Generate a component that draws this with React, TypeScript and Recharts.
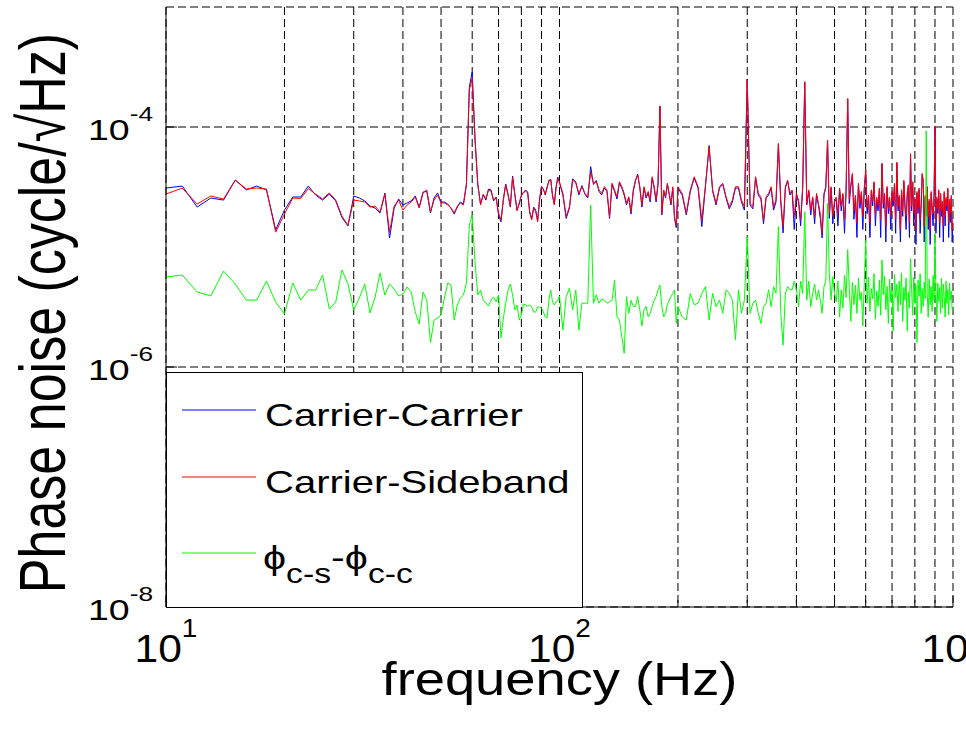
import React from "react";
import { CartesianGrid, Legend, Line, LineChart, XAxis, YAxis } from "recharts";

// frequency (Hz)
const FREQ = [
  10, 11, 12, 13, 14, 15, 16, 17, 18, 19, 20, 21, 22, 23, 24, 25, 26, 27, 28, 29,
  30, 31, 32, 33, 34, 35, 36, 37, 38, 39, 40, 41, 42, 43, 44, 45, 46, 47, 48, 49,
  50, 51, 52, 53, 54, 55, 56, 57, 58, 59, 60, 61, 62, 63, 64, 65, 66, 67, 68, 69,
  70, 71, 72, 73, 74, 75, 76, 77, 78, 79, 80, 81, 82, 83, 84, 85, 86, 87, 88, 89,
  90, 91, 92, 93, 94, 95, 96, 97, 98, 99, 100,
  102, 104, 106, 108, 110, 112, 114, 116, 118, 120, 122, 124, 126, 128, 130, 132, 134, 136, 138, 140,
  142, 144, 146, 148, 150, 152, 154, 156, 158, 160, 162, 164, 166, 168, 170, 172, 174, 176, 178, 180,
  182, 184, 186, 188, 190, 192, 194, 196, 198, 200,
  205, 210, 215, 220, 225, 230, 235, 240, 245, 250, 255, 260, 265, 270, 275, 280, 285, 290, 295, 300,
  305, 310, 315, 320, 325, 330, 335, 340, 345, 350, 355, 360, 365, 370, 375, 380, 385, 390, 395, 400,
  405, 410, 415, 420, 425, 430, 435, 440, 445, 450, 455, 460, 465, 470, 475, 480, 485, 490, 495, 500,
  505, 510, 515, 520, 525, 530, 535, 540, 545, 550, 555, 560, 565, 570, 575, 580, 585, 590, 595, 600,
  605, 610, 615, 620, 625, 630, 635, 640, 645, 650, 655, 660, 665, 670, 675, 680, 685, 690, 695, 700,
  705, 710, 715, 720, 725, 730, 735, 740, 745, 750, 755, 760, 765, 770, 775, 780, 785, 790, 795, 800,
  805, 810, 815, 820, 825, 830, 835, 840, 845, 850, 855, 860, 865, 870, 875, 880, 885, 890, 895, 900,
  905, 910, 915, 920, 925, 930, 935, 940, 945, 950, 955, 960, 965, 970, 975, 980, 985, 990, 995, 1000,
];

// phase noise, in micro-cycle/sqrt(Hz)
const CARRIER_CARRIER = [
  31.0, 32.2, 21.5, 25.6, 24.6, 36.1, 29.9, 32.2, 29.9, 13.9,
  20.3, 26.1, 26.1, 32.2, 27.1, 24.6, 27.6, 24.2, 17.6, 15.0,
  26.6, 25.6, 24.2, 21.9, 21.1, 19.2, 28.2, 11.9, 21.1, 25.1,
  22.4, 23.3, 24.2, 26.6, 21.5, 28.7, 29.1, 19.2, 25.6, 28.2,
  23.7, 23.7, 22.8, 21.1, 18.8, 21.5, 23.7, 22.8, 33.5, 215,
  287, 80.0, 33.5, 22.8, 27.1, 24.6, 30.4, 29.9, 24.2, 26.1,
  18.5, 16.2, 25.1, 33.5, 27.6, 21.5, 39.0, 27.6, 20.3, 22.8,
  27.1, 28.2, 29.9, 28.7, 19.6, 17.3, 21.5, 20.3, 16.8, 25.1,
  31.6, 30.4, 27.1, 31.6, 35.5, 36.8, 26.6, 22.8, 31.6, 38.3, 34.2,
  27.1, 17.3, 21.1, 37.0, 34.8, 27.1, 32.5, 27.6, 25.6, 46.7,
  33.2, 35.8, 29.1, 27.1, 31.0, 29.1, 17.3, 33.2, 29.1, 25.1,
  34.2, 31.0, 27.1, 22.4, 25.6, 18.8, 29.1, 35.5, 40.6, 31.0,
  21.5, 31.0, 25.6, 28.2, 23.7, 37.5, 31.0, 23.7, 33.2, 148,
  18.5, 29.1, 25.6, 33.2, 27.6, 22.4, 31.0, 17.3, 14.5, 31.0,
  27.1, 18.5, 29.1, 37.5, 31.0, 14.8, 32.2, 70.0, 29.1, 22.4,
  31.0, 33.2, 25.6, 20.8, 23.7, 31.0, 31.0, 23.7, 20.3, 251,
  22.4, 20.8, 37.5, 27.1, 25.1, 15.6, 25.6, 27.1, 31.0, 20.3,
  23.7, 71.0, 23.7, 13.1, 31.0, 35.5, 27.1, 29.1, 14.0, 27.1,
  23.7, 15.0, 31.0, 236, 22.4, 29.1, 18.5, 25.6, 15.6, 27.1,
  22.4, 17.3, 11.9, 27.1, 31.0, 76.0, 17.3, 31.0, 15.6, 23.7,
  25, 15, 30, 20, 27, 13, 29, 170, 23, 32,
  40, 17, 26, 12, 33, 21, 28, 14, 30, 43,
  19, 26, 12, 29, 22, 34, 15, 25, 20, 30,
  12, 49, 21, 27, 11, 31, 19, 25, 14, 28,
  22, 33, 13, 50, 20, 26, 11, 29, 18, 35,
  21, 14, 27, 32, 12, 59, 20, 34, 15, 25,
  10.5, 28, 19, 30, 13, 22, 40, 35, 11, 26,
  18, 31, 14, 24, 10.5, 28, 20, 15, 26, 100,
  13, 25, 19, 29, 12, 27, 18, 23, 11, 28,
  15, 25, 20, 30, 12, 24, 16, 26, 11, 15,
];

const CARRIER_SIDEBAND = [
  27.6, 31.0, 22.8, 26.6, 25.1, 36.1, 30.4, 31.0, 30.4, 13.3,
  18.8, 25.6, 25.4, 30.7, 27.6, 25.1, 28.2, 24.6, 18.1, 15.2,
  24.6, 24.2, 23.7, 21.5, 21.9, 19.6, 27.6, 13.3, 21.9, 24.6,
  20.3, 22.4, 23.7, 26.1, 21.1, 28.2, 29.9, 19.6, 24.6, 27.1,
  23.3, 23.3, 22.4, 21.1, 19.2, 21.9, 23.3, 22.4, 32.9, 203,
  256, 77.9, 32.9, 22.4, 27.6, 25.1, 29.9, 29.1, 24.6, 25.6,
  19.2, 16.8, 24.6, 32.9, 27.1, 21.9, 38.3, 27.1, 20.0, 23.3,
  26.6, 28.7, 29.1, 28.2, 19.2, 16.8, 21.1, 19.6, 16.2, 24.6,
  32.2, 29.9, 27.6, 31.0, 36.1, 36.1, 27.1, 22.4, 31.0, 37.5, 34.8,
  28, 17.9, 21.7, 36.2, 34, 28, 31.8, 28, 26.2, 42,
  34, 35, 29.9, 28, 31.8, 29.9, 17.9, 34, 29.9, 26.2,
  35, 31.8, 28, 23.1, 26.2, 19.7, 29.9, 36.2, 39.8, 31.8,
  22.4, 31.8, 26.2, 29, 24.6, 38.5, 31.8, 24.6, 34, 150,
  19.1, 29.9, 26.2, 34, 28, 23.1, 31.8, 17.9, 15.2, 31.8,
  28, 19.1, 29.9, 38.5, 31.8, 16.8, 33, 67.8, 29.9, 23.1,
  31.8, 34, 26.2, 21.7, 24.6, 31.8, 31.8, 24.6, 21.7, 246,
  23.1, 21.7, 38.5, 28, 26.2, 16.8, 26.2, 28, 31.8, 21.7,
  24.6, 73, 24.6, 14.8, 31.8, 36, 28, 29.9, 17.9, 28,
  24.6, 16.8, 31.8, 239, 23.1, 29.9, 20.3, 26.2, 17.9, 28,
  23.1, 19, 13.1, 28, 31.8, 78, 19, 31.8, 17.9, 24.6,
  26, 19, 31, 22, 28, 17, 30, 173, 25, 33,
  41, 20, 27, 16, 34, 23, 29, 18, 31, 44,
  21, 27, 16, 30, 24, 35, 19, 26, 22, 31,
  17, 50, 23, 28, 15, 32, 21, 26, 18, 29,
  24, 34, 17, 51, 22, 27, 14, 30, 20, 36,
  23, 18, 28, 33, 16, 60, 22, 35, 19, 26,
  14, 29, 21, 31, 17, 23, 41, 36, 15, 27,
  20, 32, 18, 25, 14, 29, 22, 19, 27, 102,
  17, 26, 21, 30, 16, 28, 20, 24, 15, 29,
  18, 26, 22, 31, 16, 25, 19, 27, 14, 17,
];

const PHI_DIFF = [
  5.62, 5.84, 4.22, 3.91, 6.31, 4.92, 3.61, 3.61, 5.21, 3.48,
  2.77, 5.01, 3.61, 4.38, 4.38, 5.84, 3.04, 3.48, 6.43, 4.92,
  2.99, 3.76, 4.92, 2.82, 3.83, 6.07, 3.98, 4.92, 4.47, 3.91,
  4.05, 4.64, 4.22, 2.87, 2.28, 4.22, 3.61, 1.6, 2.46, 2.56,
  2.71, 3.76, 5.01, 4.82, 2.46, 3.29, 3.76, 3.98, 5.01, 15.2,
  18.5, 7.5, 3.98, 4.38, 3.61, 3.41, 3.22, 3.61, 3.83, 3.48,
  3.98, 1.75, 2.56, 3.41, 4.38, 4.92, 3.98, 2.99, 3.29, 2.46,
  2.71, 3.35, 3.29, 3.22, 3.29, 3.16, 2.87, 2.87, 3.16, 3.16,
  3.1, 2.87, 2.61, 2.56, 3.61, 4.38, 3.48, 3.29, 3.48, 3.61, 3.91,
  2.03, 3.86, 4.53, 2.99, 4.38, 2.03, 3.4, 3.4, 3.4, 22.4,
  3.4, 4.0, 3.4, 3.7, 3.6, 3.4, 3.5, 3.6, 5.3, 2.62,
  2.46, 1.79, 1.3, 3.86, 2.8, 3.6, 3.2, 3.2, 3.86, 2.99,
  2.2, 2.99, 3.2, 2.62, 2.8, 3.2, 3.6, 3.86, 4.38, 4.8,
  3.2, 2.62, 2.8, 3.3, 3.6, 3.86, 4.1, 4.38, 2.31, 3.2,
  2.62, 2.46, 4.1, 3.3, 3.4, 4.11, 4.67, 2.46, 4.11, 3.18,
  3.61, 2.8, 4.4, 4.11, 3.61, 1.68, 4.4, 2.8, 3.61, 12.2,
  2.8, 3.4, 3.61, 2.8, 2.3, 3.18, 3.4, 4.4, 3.18, 4.67,
  4.11, 14.8, 2.8, 1.52, 4.11, 4.67, 4.4, 4.4, 5.2, 4.4,
  3.18, 5.2, 4.11, 19.7, 3.61, 5.2, 3.18, 4.11, 4.9, 3.61,
  4.4, 3.61, 2.8, 4.67, 5.2, 23, 6.04, 3.61, 5.66, 4.11,
  3.5, 5.2, 2.6, 4.4, 3.1, 5.8, 3.8, 9.5, 4.6, 2.4,
  5.1, 3.3, 4.8, 2.8, 5.5, 3.6, 4.2, 2.2, 5.0, 11.4,
  3.4, 5.6, 2.9, 4.5, 3.7, 6.0, 2.5, 4.3, 3.2, 5.3,
  2.7, 7.8, 4.0, 5.7, 3.0, 4.7, 2.3, 5.4, 3.5, 4.4,
  2.0, 5.9, 3.8, 4.9, 2.9, 5.2, 3.3, 6.1, 2.4, 4.6,
  3.6, 5.5, 2.0, 4.2, 3.1, 8.0, 4.4, 2.7, 5.6, 3.4,
  4.8, 1.6, 5.3, 3.9, 6.0, 2.8, 4.5, 3.2, 5.1, 3.7,
  93, 4.1, 2.6, 5.4, 3.3, 4.7, 2.9, 5.8, 3.6, 13,
  4.2, 2.4, 5.0, 3.5, 4.6, 2.8, 5.5, 3.1, 4.9, 3.8,
  2.6, 5.2, 3.4, 4.4, 2.7, 5.0, 3.6, 4.3, 3.0, 3.0,
];

const X_TICKS = [10, 20, 30, 40, 50, 60, 70, 80, 90, 100, 200, 300, 400, 500, 600, 700, 800, 900, 1000];
const Y_TICKS = [1e-8, 1e-6, 1e-4];

const SERIES = [
  { key: "cc", name: "Carrier-Carrier", color: "#0000ff" },
  { key: "cs", name: "Carrier-Sideband", color: "#ff0000" },
  { key: "d", name: "phi", color: "#00ff00" },
];

const data = FREQ.map((f, i) => ({
  f,
  cc: CARRIER_CARRIER[i] * 1e-6,
  cs: CARRIER_SIDEBAND[i] * 1e-6,
  d: PHI_DIFF[i] * 1e-6,
}));

const FONT = '"Liberation Sans", Arial, Helvetica, sans-serif';
const SX = 1.25; // the original figure is stretched horizontally

const isDecade = (v: number) => {
  const lg = Math.log10(v);
  return Math.abs(lg - Math.round(lg)) < 1e-9;
};

function BottomTick(props: any) {
  const { x, y, payload } = props;
  const v = payload.value;
  const major = isDecade(v);
  return (
    <g>
      <line x1={x} x2={x} y1={y} y2={y - (major ? 11 : 7)} stroke="#000" />
      {major && (
        <text
          transform={`translate(${x},${y + 55}) scale(1.12,1)`}
          textAnchor="middle"
          fontFamily={FONT}
          fontSize={38}
          fill="#000"
        >
          10
          <tspan dy={-25} fontSize={25}>
            {Math.round(Math.log10(v))}
          </tspan>
        </text>
      )}
    </g>
  );
}

function TopTick(props: any) {
  const { x, y, payload } = props;
  const major = isDecade(payload.value);
  return <line x1={x} x2={x} y1={y} y2={y + (major ? 11 : 7)} stroke="#000" />;
}

function LeftTick(props: any) {
  const { x, y, payload } = props;
  const e = Math.round(Math.log10(payload.value));
  return (
    <g>
      <line x1={x} x2={x + 11} y1={y} y2={y} stroke="#000" />
      <text
        transform={`translate(${x - 13},${y + 13}) scale(${SX},1)`}
        textAnchor="end"
        fontFamily={FONT}
        fontSize={30}
        fill="#000"
      >
        10
        <tspan dy={-19} fontSize={21}>
          {e}
        </tspan>
      </text>
    </g>
  );
}

function RightTick(props: any) {
  const { x, y } = props;
  return <line x1={x} x2={x - 11} y1={y} y2={y} stroke="#000" />;
}

function YTitle(props: any) {
  const { viewBox } = props;
  const cx = 48;
  const cy = viewBox.y + viewBox.height / 2 + 6;
  return (
    <text
      transform={`translate(${cx + 17},${cy}) scale(${SX},1) rotate(-90)`}
      textAnchor="middle"
      fontFamily={FONT}
      fontSize={52}
      fill="#000"
    >
      Phase noise (cycle/√Hz)
    </text>
  );
}

function XTitle(props: any) {
  const { viewBox } = props;
  const cx = viewBox.x + viewBox.width / 2;
  return (
    <text
      transform={`translate(${cx},695) scale(1.18,1)`}
      textAnchor="middle"
      fontFamily={FONT}
      fontSize={46}
      fill="#000"
    >
      frequency (Hz)
    </text>
  );
}

function LegendBox() {
  const rows = [38, 105, 181];
  return (
    <svg width={417} height={236} style={{ display: "block", background: "#fff" }}>
      <rect x={0.5} y={0.5} width={416} height={235} fill="#fff" stroke="#000" />
      {SERIES.map((s, i) => (
        <line key={s.key} x1={16} x2={90} y1={rows[i]} y2={rows[i]} stroke={s.color} strokeWidth={1} />
      ))}
      <text transform={`translate(99,54) scale(${SX},1)`} fontFamily={FONT} fontSize={32}>
        {SERIES[0].name}
      </text>
      <text transform={`translate(99,121) scale(${SX},1)`} fontFamily={FONT} fontSize={32}>
        {SERIES[1].name}
      </text>
      <text transform={`translate(97,197) scale(${SX},1)`} fontFamily={FONT} fontSize={33}>
        ϕ
        <tspan dy={14} fontSize={27}>
          c-s
        </tspan>
        <tspan dy={-14}>-ϕ</tspan>
        <tspan dy={14} fontSize={27}>
          c-c
        </tspan>
      </text>
    </svg>
  );
}

export default function App() {
  return (
    <div style={{ position: "absolute", left: 0, top: 0, background: "#fff" }}>
      <LineChart
        width={966}
        height={732}
        data={data}
        margin={{ top: 7, right: 13, bottom: 0, left: 0 }}
      >
        <CartesianGrid stroke="#000" strokeDasharray="8 4" />
        <XAxis
          dataKey="f"
          type="number"
          scale="log"
          domain={[10, 1000]}
          allowDataOverflow
          ticks={X_TICKS}
          interval={0}
          tick={<BottomTick />}
          tickLine={false}
          tickSize={0}
          tickMargin={0}
          height={125}
          axisLine={{ stroke: "#000" }}
          label={<XTitle />}
        />
        <XAxis
          xAxisId="top"
          orientation="top"
          dataKey="f"
          type="number"
          scale="log"
          domain={[10, 1000]}
          allowDataOverflow
          ticks={X_TICKS}
          interval={0}
          tick={<TopTick />}
          tickLine={false}
          tickSize={0}
          tickMargin={0}
          height={0}
          axisLine={{ stroke: "#000" }}
        />
        <YAxis
          type="number"
          scale="log"
          domain={[1e-8, 1e-3]}
          allowDataOverflow
          ticks={Y_TICKS}
          interval={0}
          tick={<LeftTick />}
          tickLine={false}
          tickSize={0}
          tickMargin={0}
          width={166}
          axisLine={{ stroke: "#000" }}
          label={<YTitle />}
        />
        <YAxis
          yAxisId="right"
          orientation="right"
          type="number"
          scale="log"
          domain={[1e-8, 1e-3]}
          allowDataOverflow
          ticks={Y_TICKS}
          interval={0}
          tick={<RightTick />}
          tickLine={false}
          tickSize={0}
          tickMargin={0}
          width={0}
          axisLine={{ stroke: "#000" }}
        />
        {SERIES.map((s) => (
          <Line
            key={s.key}
            dataKey={s.key}
            name={s.name}
            type="linear"
            stroke={s.color}
            strokeWidth={1}
            dot={false}
            activeDot={false}
            isAnimationActive={false}
          />
        ))}
        <Legend
          layout="horizontal"
          verticalAlign="middle"
          align="center"
          wrapperStyle={{ left: 166, top: 372, width: 417, height: 236 }}
          content={() => <LegendBox />}
        />
      </LineChart>
    </div>
  );
}
